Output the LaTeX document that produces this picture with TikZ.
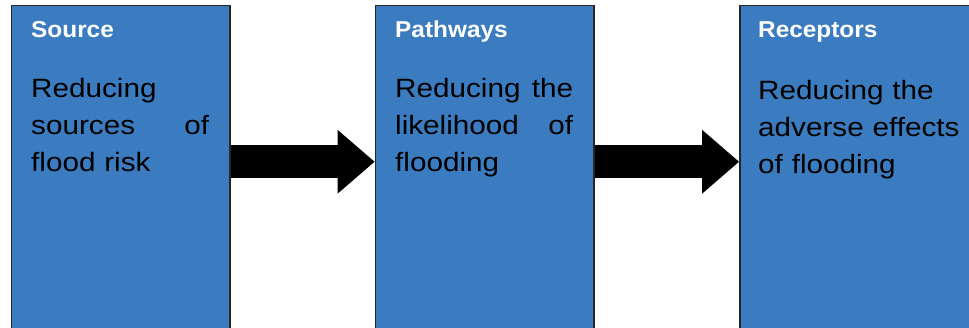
\documentclass[tikz,border=0pt]{standalone}
\usepackage{fontspec}
\setmainfont[FakeStretch=1.12]{Liberation Sans}
\newfontfamily\headfont[FakeStretch=1.06]{Liberation Sans}
\usepackage{tikz}
\tikzset{>=latex}
\usetikzlibrary{arrows.meta}
\definecolor{boxblue}{RGB}{59,124,192}

\tikzset{
  stage/.style={draw=black!85, line width=1.5, fill=boxblue, anchor=north west,
    minimum width=218.5, minimum height=340, inner sep=0},
  stagehead/.style={anchor=base west, inner sep=0, text=white,
    font=\headfont\bfseries\fontsize{23}{28}\selectfont},
  stagetext/.style={anchor=base west, inner sep=0, text width=178, align=left,
    font=\fontsize{26.5}{37}\selectfont},
  blockarrow/.style={line width=33, -{Triangle[length=37pt,width=64pt,line width=0pt]}}
}

\begin{document}
\begin{tikzpicture}[x=1pt, y=-1pt]
   \useasboundingbox (0,0) rectangle (969,328);
   \clip (0,0) rectangle (969,328);

   \node[stage] (src) at (10.5,5) {};
   \node[stage] (pw) at (374.5,5) {};
   \node[stage, minimum width=250] (rec) at (739,5) {};

   \node[stagehead] (srchead) at ([shift={(20.5,32.3)}]src.north west) {Source};
   \node[stagehead] (pwhead) at ([shift={(20.5,32.3)}]pw.north west) {Pathways};
   \node[stagehead] (rechead) at ([shift={(19,32.3)}]rec.north west) {Receptors};

   \node[stagetext] (srctext) at ([shift={(20.5,92.3)}]src.north west)
     {Reducing\\ sources\hfill of\\ flood risk};
   \node[stagetext] (pwtext) at ([shift={(20.5,92.3)}]pw.north west)
     {Reducing\hfill the\\ likelihood\hfill of\\ flooding};
   \node[stagetext, text width=215] (rectext) at ([shift={(19,95)}]rec.north west)
     {Reducing the\\ adverse effects\\ of flooding};

 \foreach \a/\b in {src/pw, pw/rec}{
    \draw[blockarrow] ([yshift=14]\a.east) -- ([yshift=14]\b.west);
    }

\end{tikzpicture}
\end{document}
